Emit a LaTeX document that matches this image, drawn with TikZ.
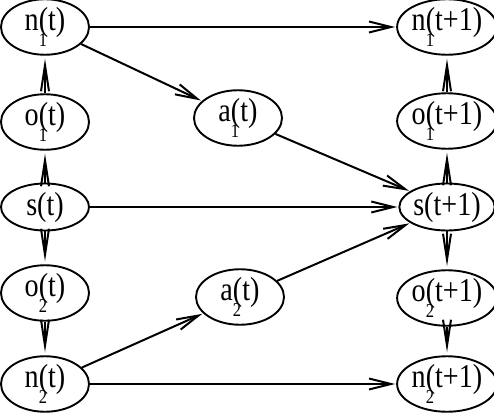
\documentclass[tikz,border=0pt]{standalone}
\usepackage{fontspec}
\usepackage{graphicx}
\setmainfont{Liberation Serif}
\usetikzlibrary{shapes.geometric,arrows.meta}
\newcommand\sbs[1]{\rlap{\raisebox{-14pt}{\fontsize{17}{17}\selectfont #1}}}
\newcommand\vtx[1]{\scalebox{0.97}[1.15]{#1}}
\tikzset{
  var/.style={draw, ellipse, line width=1.9pt, minimum width=88pt, minimum height=47pt, inner sep=0pt,
    font=\fontsize{29}{29}\selectfont},
  arr/.style={line width=2pt, -{Straight Barb[length=22pt,width=11pt,line width=2pt]}, shorten >=1pt},
  varr/.style={line width=2pt, -{Straight Barb[length=26pt,width=8pt,line width=2pt]}, shorten >=3pt}
}
\begin{document}
\begin{tikzpicture}[x=1pt,y=-1pt]
\useasboundingbox (0,0) rectangle (494,414);
% left column
\node[var] (n1t) at (45,27) {\vtx{n\sbs{1}(t)}};
\node[var] (o1t) at (45,122) {\vtx{o\sbs{1}(t)}};
\node[var] (st)  at (45,207) {\vtx{s(t)}};
\node[var] (o2t) at (45,293) {\vtx{o\sbs{2}(t)}};
\node[var] (n2t) at (45,384) {\vtx{n\sbs{2}(t)}};
% middle
\node[var] (a1t) at (238,118) {\vtx{a\sbs{1}(t)}};
\node[var] (a2t) at (240,297) {\vtx{a\sbs{2}(t)}};
% right column
\node[var] (n1u) at (447,27) {\vtx{n\sbs{1}(t+1)}};
\node[var] (o1u) at (447,121) {\vtx{o\sbs{1}(t+1)}};
\node[var] (su)  at (447,207) {\vtx{s(t+1)}};
\node[var] (o2u) at (447,298) {\vtx{o\sbs{2}(t+1)}};
\node[var] (n2u) at (447,384) {\vtx{n\sbs{2}(t+1)}};
% horizontal / diagonal arrows
\draw[arr] (n1t) -- (n1u);
\draw[arr] (n1t) -- (a1t);
\draw[arr] (a1t) -- (su);
\draw[arr] (st) -- (su);
\draw[arr] (a2t) -- (su);
\draw[arr] (n2t) -- (a2t);
\draw[arr] (n2t) -- (n2u);
% vertical arrows
\draw[varr] (o1t) -- (n1t);
\draw[varr] (st) -- (o1t);
\draw[varr] (st) -- (o2t);
\draw[varr] (o2t) -- (n2t);
\draw[varr] (o1u) -- (n1u);
\draw[varr] (su) -- (o1u);
\draw[varr] (su) -- (o2u);
\draw[varr] (o2u) -- (n2u);
\end{tikzpicture}
\end{document}
